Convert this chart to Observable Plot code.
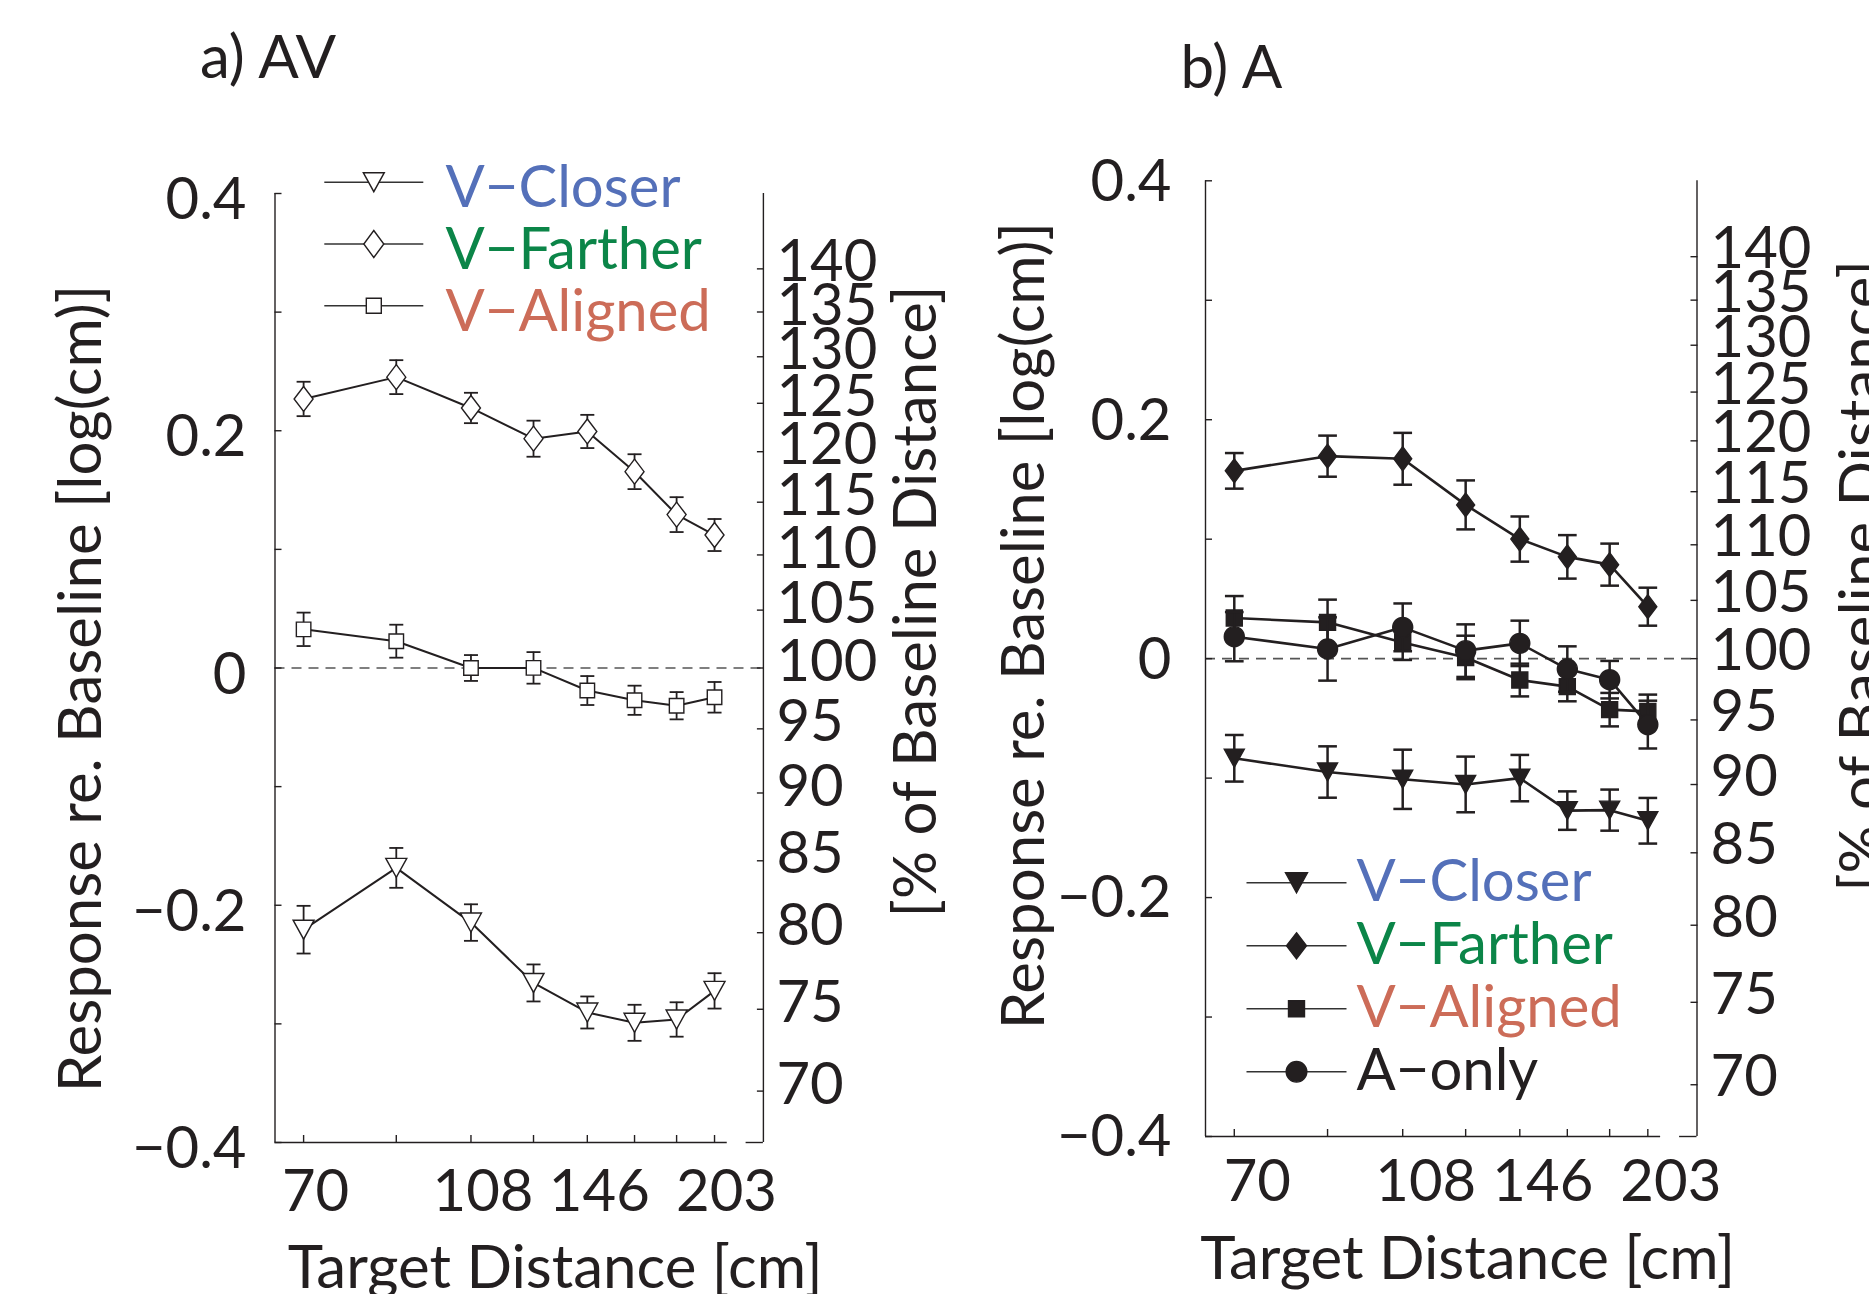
<!DOCTYPE html>
<html><head><meta charset="utf-8">
<script src="https://cdn.jsdelivr.net/npm/d3@7"></script>
<script src="https://cdn.jsdelivr.net/npm/@observablehq/plot@0.6"></script>
<style>
html,body{margin:0;padding:0;background:#fff;overflow:hidden;}
#wrap{position:relative;width:1869px;height:1294px;background:#fff;}
#pa,#pb{position:absolute;top:0;}
#pa{left:0;} #pb{left:965px;}
</style></head>
<body><div id="wrap"><div id="pa"></div><div id="pb"></div></div>
<script>
// ---------- data ----------
const distances = [70, 89, 108, 127, 146, 165, 184, 203];   // target distance [cm]
const xLabelTicks = [70, 108, 146, 203];
const xDomain = [65, 230.4];
const xAxisGap = [209.8, 220.3];
const yDomain = [-0.4, 0.4];
const yMinorTicks = [-0.4, -0.3, -0.2, -0.1, 0, 0.1, 0.2, 0.3, 0.4];
const yLabelTicks = [-0.4, -0.2, 0, 0.2, 0.4];
const pctTicks = [70, 75, 80, 85, 90, 95, 100, 105, 110, 115, 120, 125, 130, 135, 140];

// a) AV
const avCloser     = [-0.2206, -0.1685, -0.2146, -0.2655, -0.2904, -0.2991, -0.2963, -0.2722];
const avCloserErr  = [0.0201, 0.0168, 0.0154, 0.0156, 0.0135, 0.0152, 0.0145, 0.0149];
const avFarther    = [0.2268, 0.2452, 0.2192, 0.1933, 0.1994, 0.1655, 0.1293, 0.1121];
const avFartherErr = [0.0145, 0.0143, 0.0128, 0.0152, 0.0140, 0.0147, 0.0147, 0.0135];
const avAligned    = [0.0326, 0.0226, 0.0000, 0.0001, -0.0190, -0.0272, -0.0318, -0.0247];
const avAlignedErr = [0.0141, 0.0139, 0.0109, 0.0133, 0.0122, 0.0123, 0.0115, 0.0129];

// b) A
const aCloser      = [-0.0834, -0.0949, -0.1010, -0.1053, -0.1000, -0.1272, -0.1268, -0.1357];
const aCloserErr   = [0.0195, 0.0215, 0.0248, 0.0233, 0.0194, 0.0161, 0.0172, 0.0191];
const aFarther     = [0.1572, 0.1695, 0.1673, 0.1287, 0.1001, 0.0852, 0.0787, 0.0435];
const aFartherErr  = [0.0149, 0.0172, 0.0217, 0.0205, 0.0189, 0.0182, 0.0176, 0.0159];
const aAligned     = [0.0340, 0.0304, 0.0136, 0.0010, -0.0179, -0.0234, -0.0427, -0.0441];
const aAlignedErr  = [0.0184, 0.0190, 0.0147, 0.0182, 0.0137, 0.0123, 0.0140, 0.0140];
const aOnly        = [0.0184, 0.0081, 0.0262, 0.0067, 0.0128, -0.0087, -0.0176, -0.0552];
const aOnlyErr     = [0.0206, 0.0265, 0.0200, 0.0220, 0.0190, 0.0190, 0.0157, 0.0200];

const seriesNames  = ["V\u2212Closer", "V\u2212Farther", "V\u2212Aligned", "A\u2212only"];
const seriesColors = ["#5470b9", "#0b8548", "#cc6c58", "#231f20"];

const titles = ["a) AV", "b) A"];
const yLabel = "Response re. Baseline [log(cm)]";
const y2Label = "[% of Baseline Distance]";
const xLabel = "Target Distance [cm]";

// ---------- styling helpers ----------
const ink = "#231f20";
const FONT = "Lato, 'Open Sans', sans-serif";
const FS = 58;     // tick labels, legend
const FSL = 60;    // titles, axis labels

const hline = w => ({draw(c) { c.moveTo(-w / 2, 0); c.lineTo(w / 2, 0); }});
const triDown = (w, h) => ({draw(c) { c.moveTo(-w / 2, -h / 2); c.lineTo(w / 2, -h / 2); c.lineTo(0, h / 2); c.closePath(); }});
const diamond = (w, h) => ({draw(c) { c.moveTo(0, -h / 2); c.lineTo(w / 2, 0); c.lineTo(0, h / 2); c.lineTo(-w / 2, 0); c.closePath(); }});
const square = s => ({draw(c) { c.rect(-s / 2, -s / 2, s, s); }});
const circle = r => ({draw(c) { c.moveTo(r, 0); c.arc(0, 0, r, 0, 2 * Math.PI); c.closePath(); }});

const rows = (values, errors) => distances.map((d, i) => ({d, v: values[i], e: errors[i]}));
const fmtY = d => d === 0 ? "0" : (d < 0 ? "\u2212" : "") + Math.abs(d).toFixed(1);

function panel(cfg) {
  const m = [];
  const st = {stroke: ink, strokeWidth: 1.4};
  // zero reference
  m.push(Plot.ruleY([0], {x1: () => xDomain[0], x2: () => xDomain[1], stroke: "#555", strokeWidth: 1.6, strokeDasharray: "10,7"}));
  // frame
  m.push(Plot.ruleX([xDomain[0], xDomain[1]], {y1: () => yDomain[0], y2: () => yDomain[1], ...st}));
  m.push(Plot.ruleY([yDomain[0]], {x1: () => xDomain[0], x2: () => xAxisGap[0], ...st}));
  m.push(Plot.ruleY([yDomain[0]], {x1: () => xAxisGap[1], x2: () => xDomain[1], ...st}));
  // axes
  m.push(Plot.axisY({ticks: yMinorTicks, anchor: "left", tickSize: -7, tickFormat: () => "", label: null, ...st}));
  m.push(Plot.axisY({ticks: yLabelTicks, anchor: "left", tickSize: 0, tickPadding: cfg.yPad, tickFormat: fmtY, label: null, fontSize: FS, dy: cfg.yDy, fill: ink}));
  const pctY = pctTicks.map(p => Math.log(p / 100));
  m.push(Plot.axisY({ticks: pctY, anchor: "right", tickSize: -7, tickFormat: () => "", label: null, ...st}));
  m.push(Plot.axisY({ticks: pctY, anchor: "right", tickSize: 0, tickPadding: cfg.y2Pad, tickFormat: d => String(Math.round(100 * Math.exp(d))), label: null, fontSize: FS, dy: cfg.y2Dy, fill: ink}));
  m.push(Plot.axisX({ticks: distances, anchor: "bottom", tickSize: -7, tickFormat: () => "", label: null, ...st}));
  m.push(Plot.axisX({ticks: xLabelTicks, anchor: "bottom", tickSize: 0, tickPadding: cfg.xPad, tickFormat: d => String(d), label: null, fontSize: FS, dx: cfg.xDx, fill: ink}));
  // data
  for (const s of cfg.series) {
    const r = rows(s.values, s.errors);
    m.push(Plot.line(r, {x: "d", y: "v", stroke: ink, strokeWidth: cfg.lineW}));
    m.push(Plot.ruleX(r, {x: "d", y1: q => q.v - q.e, y2: q => q.v + q.e, stroke: ink, strokeWidth: cfg.errW}));
    m.push(Plot.dot(r, {x: "d", y: q => q.v + q.e, symbol: hline(cfg.capW), fill: "none", stroke: ink, strokeWidth: cfg.errW}));
    m.push(Plot.dot(r, {x: "d", y: q => q.v - q.e, symbol: hline(cfg.capW), fill: "none", stroke: ink, strokeWidth: cfg.errW}));
    m.push(Plot.dot(r, {x: "d", y: "v", symbol: s.symbol, fill: cfg.filled ? ink : "white", stroke: ink, strokeWidth: cfg.markW}));
  }
  // legend
  cfg.series.forEach((s, i) => {
    const dy = cfg.leg.dy0 + i * cfg.leg.step;
    m.push(Plot.dot([0], {frameAnchor: "top-left", dx: cfg.leg.dxLine, dy, symbol: hline(cfg.leg.lineW), fill: "none", stroke: "#333", strokeWidth: 1.6}));
    m.push(Plot.dot([0], {frameAnchor: "top-left", dx: cfg.leg.dxLine, dy, symbol: s.legSymbol, fill: cfg.filled ? ink : "white", stroke: ink, strokeWidth: cfg.markW}));
    m.push(Plot.text([s.name], {frameAnchor: "top-left", dx: cfg.leg.dxText, dy: dy + cfg.leg.textDy, text: d => d, textAnchor: "start", lineAnchor: "bottom", fontSize: FS, fill: s.color}));
  });
  // titles and labels
  m.push(Plot.text([cfg.title], {frameAnchor: "top-left", dx: cfg.titleDx, dy: cfg.titleDy, text: d => d, textAnchor: "start", lineAnchor: "bottom", fontSize: FSL, fill: ink}));
  m.push(Plot.text([yLabel], {frameAnchor: "left", dx: cfg.ylDx, dy: cfg.ylDy, rotate: -90, text: d => d, textAnchor: "middle", lineAnchor: "bottom", fontSize: FSL, fill: ink}));
  m.push(Plot.text([y2Label], {frameAnchor: "right", dx: cfg.y2lDx, dy: cfg.y2lDy, rotate: -90, text: d => d, textAnchor: "middle", lineAnchor: "bottom", fontSize: FSL, fill: ink}));
  m.push(Plot.text([xLabel], {frameAnchor: "bottom", dx: cfg.xlDx, dy: cfg.xlDy, text: d => d, textAnchor: "middle", lineAnchor: "bottom", fontSize: FSL, fill: ink}));

  return Plot.plot({
    width: cfg.width, height: 1294,
    marginLeft: cfg.mL, marginRight: cfg.mR, marginTop: cfg.mT, marginBottom: cfg.mB,
    x: {type: "log", domain: xDomain, label: null},
    y: {domain: yDomain, label: null},
    style: {fontFamily: FONT, color: ink, background: "transparent"},
    marks: m
  });
}

const svgA = panel({
  width: 965, mL: 274.5, mR: 202.1, mT: 193, mB: 152,
  yPad: 28.5, yDy: 7, y2Pad: 13, y2Dy: -6, xPad: 27.6, xDx: 12,
  lineW: 2, errW: 1.8, capW: 14, markW: 1.4, filled: false,
  title: titles[0], titleDx: -75, titleDy: -116,
  ylDx: -174.5, ylDy: 20.5, y2lDx: 173, y2lDy: -66.5, xlDx: 36, xlDy: 145,
  leg: {dxLine: 98.8, dxText: 170.5, dy0: -11.3, step: 61.8, textDy: 25, lineW: 99},
  series: [
    {name: seriesNames[0], color: seriesColors[0], values: avCloser, errors: avCloserErr, symbol: triDown(21, 19), legSymbol: triDown(21, 19)},
    {name: seriesNames[1], color: seriesColors[1], values: avFarther, errors: avFartherErr, symbol: diamond(19, 25), legSymbol: diamond(20, 27)},
    {name: seriesNames[2], color: seriesColors[2], values: avAligned, errors: avAlignedErr, symbol: square(14.5), legSymbol: square(15)}
  ]
});

const svgB = panel({
  width: 904, mL: 240, mR: 172.5, mT: 180.3, mB: 158,
  yPad: 34, yDy: 1.3, y2Pad: 13.5, y2Dy: -7, xPad: 23.6, xDx: 23,
  lineW: 2.6, errW: 2.5, capW: 18.7, markW: 1.4, filled: true,
  title: titles[1], titleDx: -25, titleDy: -93.3,
  ylDx: -162, ylDy: -33, y2lDx: 184.5, y2lDy: -82.7, xlDx: 16.5, xlDy: 142,
  leg: {dxLine: 91, dxText: 151, dy0: 702, step: 63, textDy: 18, lineW: 100},
  series: [
    {name: seriesNames[0], color: seriesColors[0], values: aCloser, errors: aCloserErr, symbol: triDown(20, 18), legSymbol: triDown(22, 20)},
    {name: seriesNames[1], color: seriesColors[1], values: aFarther, errors: aFartherErr, symbol: diamond(18, 24), legSymbol: diamond(20, 26)},
    {name: seriesNames[2], color: seriesColors[2], values: aAligned, errors: aAlignedErr, symbol: square(16), legSymbol: square(16)},
    {name: seriesNames[3], color: seriesColors[3], values: aOnly, errors: aOnlyErr, symbol: circle(10), legSymbol: circle(10.3)}
  ]
});

document.getElementById("pa").appendChild(svgA);
document.getElementById("pb").appendChild(svgB);
</script>
</body></html>
